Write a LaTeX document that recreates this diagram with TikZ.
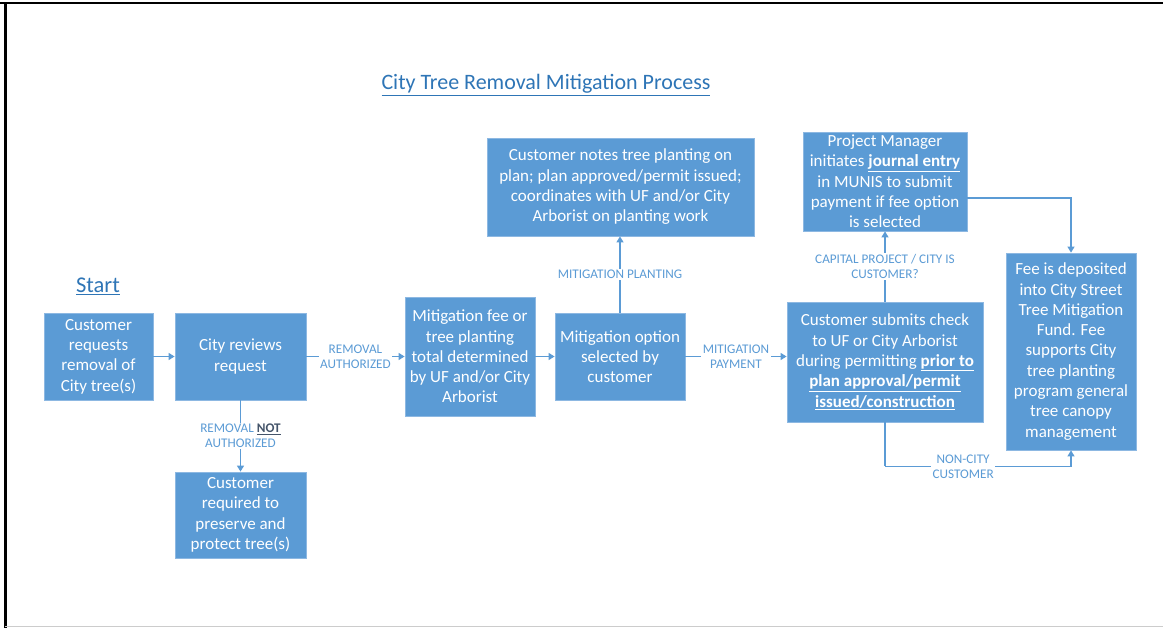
\documentclass[tikz,border=0pt]{standalone}
\usepackage{fontspec}
\setmainfont{Carlito}
\usetikzlibrary{arrows.meta,calc}
\definecolor{boxblue}{HTML}{5B9BD5}
\definecolor{boxedge}{HTML}{8DB8E2}
\definecolor{titleblue}{HTML}{2E75B6}
\definecolor{notcol}{HTML}{44546A}
\tikzset{
  procbox/.style={fill=boxblue, draw=boxedge, line width=0.8pt, text=white, align=center,
    inner sep=0pt, font=\fontsize{17}{20.3}\selectfont},
  conn/.style={draw=boxblue, line width=1.3pt, -{Triangle[length=6pt,width=7pt]}},
  plainconn/.style={draw=boxblue, line width=1.3pt},
  lbl/.style={fill=white, text=boxblue, align=center, inner sep=1.5pt,
    font=\fontsize{13.2}{15}\selectfont},
}
\begin{document}
\begin{tikzpicture}[x=1pt,y=-1pt]
\useasboundingbox (0,0) rectangle (1163,628);
% frame
\draw[line width=2.5pt, black] (0,3) -- (1163,3);
\draw[line width=3pt, black] (5.5,3) -- (5.5,628);
\draw[line width=1pt, black!20] (5,626.5) -- (1163,626.5);

% title and start
\node[text=titleblue, font=\fontsize{22}{26}\selectfont] (title) at (546,85) {\underline{City Tree Removal Mitigation Process}};
\node[text=titleblue, font=\fontsize{22.5}{26}\selectfont] (start) at (98,286) {\underline{Start}};

% boxes
\node[procbox, minimum width=109pt, minimum height=87pt] (A) at (98.5,356.5)
  {Customer\\requests\\removal of\\City tree(s)};
\node[procbox, minimum width=131pt, minimum height=87pt] (B) at (240.5,356.5)
  {City reviews\\request};
\node[procbox, minimum width=131pt, minimum height=86pt] (C) at (240.5,515)
  {Customer\\required to\\preserve and\\protect tree(s)};
\node[procbox, minimum width=130pt, minimum height=119pt] (D) at (470,356.5)
  {Mitigation fee or\\tree planting\\total determined\\by UF and/or City\\Arborist};
\node[procbox, minimum width=130pt, minimum height=87pt] (E) at (620,356.5)
  {Mitigation option\\selected by\\customer};
\node[procbox, minimum width=267pt, minimum height=98pt] (F) at (620.5,187)
  {Customer notes tree planting on\\plan; plan approved/permit issued;\\coordinates with UF and/or City\\Arborist on planting work};
\node[procbox, minimum width=196pt, minimum height=120pt] (G) at (885,362)
  {Customer submits check\\to UF or City Arborist\\during permitting \textbf{\underline{prior to}}\\\textbf{\underline{plan approval/permit}}\\\textbf{\underline{issued/construction}}};
\node[procbox, minimum width=164pt, minimum height=99pt] (H) at (885,181.5)
  {Project Manager\\initiates \textbf{\underline{journal entry}}\\in MUNIS to submit\\payment if fee option\\is selected};
\node[procbox, minimum width=130pt, minimum height=197pt] (I) at (1071,351.5)
  {Fee is deposited\\into City Street\\Tree Mitigation\\Fund. Fee\\supports City\\tree planting\\program general\\tree canopy\\management};

% connectors
\draw[conn] (A) -- (B);
\draw[conn] (B) -- node[lbl] {REMOVAL\\AUTHORIZED} (D);
\draw[conn] (B) -- node[lbl] {REMOVAL \textbf{\textcolor{notcol}{\underline{NOT}}}\\AUTHORIZED} (C);
\draw[conn] (D) -- (E);
\draw[conn] (E.east) -- node[lbl] {MITIGATION\\PAYMENT} (E.east -| G.west);
\draw[conn] (E.north) -- node[lbl] {MITIGATION PLANTING} (E.north |- F.south);
\draw[conn] (G.north) -- node[lbl] {CAPITAL PROJECT / CITY IS\\CUSTOMER?} (H.south);
\coordinate (hout) at ($(H.east)+(0,16.5)$);
\draw[conn] (hout) -| (I.north);
\coordinate (gi) at ($(G.south)+(0,44)$);
\draw[plainconn] (G.south) -- (gi);
\draw[conn] (gi) -- node[lbl, pos=0.42] {NON-CITY\\CUSTOMER} (gi -| I.south) -- (I.south);
\end{tikzpicture}
\end{document}
